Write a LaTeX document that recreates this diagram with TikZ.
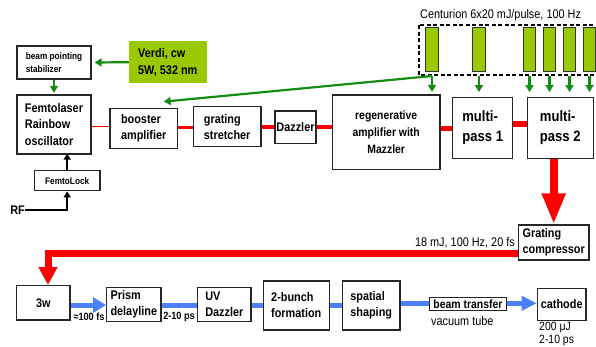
\documentclass[tikz,border=0pt]{standalone}
\usepackage{fontspec}
\setmainfont{Liberation Sans}[FakeStretch=0.87]
\usetikzlibrary{arrows.meta}
\definecolor{lgreen}{RGB}{153,201,0}
\definecolor{dgreen}{RGB}{20,140,20}
\definecolor{lred}{RGB}{255,0,0}
\definecolor{lblue}{RGB}{77,128,255}
\begin{document}
\begin{tikzpicture}[x=1pt,y=-1pt,
  box/.style={draw=black!85, line width=1.3pt, inner sep=0pt, align=center,
    font=\bfseries\fontsize{12.5}{16}\selectfont},
  boxl/.style={box, align=left},
  bar/.style={draw=black!80, line width=0.8pt, fill=lgreen, minimum width=12.6pt,
    minimum height=44pt, inner sep=0pt},
  garrow/.style={draw=dgreen, line width=2.2pt, -{Triangle[width=8pt,length=7pt]}},
  rline/.style={draw=lred, line width=3.5pt},
  bline/.style={draw=lblue, line width=5pt},
  bhead/.style={-{Triangle[width=15pt,length=13pt]}},
  karrow/.style={draw=black, line width=2pt, -{Triangle[width=7pt,length=6pt]}},
  lab/.style={inner sep=0pt, font=\fontsize{12.5}{14}\selectfont},
  blab/.style={inner sep=0pt, font=\bfseries\fontsize{10.5}{12}\selectfont}
]
\fill[white] (0,0) rectangle (596,346);
\useasboundingbox (0,0) rectangle (596,346);

% Centurion pump lasers
\node[lab, anchor=base west] (cent) at (420,18.5) {Centurion 6x20 mJ/pulse, 100 Hz};
\draw[line width=1.3pt, dash pattern=on 4pt off 2.5pt] (419,25) rectangle (612,75);
\node[bar] (b1) at (432,49) {};
\node[bar] (b2) at (479,49) {};
\node[bar] (b3) at (529.5,49) {};
\node[bar] (b4) at (549.5,49) {};
\node[bar] (b5) at (569.5,49) {};
\node[bar] (b6) at (589.5,49) {};

% top row
\node[boxl, minimum width=74pt, minimum height=33pt,
  font=\bfseries\fontsize{9.5}{13}\selectfont] (stab) at (54,62.5) {beam pointing\\stabilizer};
\node[fill=lgreen, minimum width=77.7pt, minimum height=42.3pt, inner sep=0pt, align=left,
  font=\bfseries\fontsize{12.5}{16.7}\selectfont] (verdi) at (167.8,62.2) {Verdi, cw\\5W, 532 nm};
\node[boxl, minimum width=74pt, minimum height=59pt,
  font=\bfseries\fontsize{12.5}{16.7}\selectfont] (femto) at (54,124.5) {Femtolaser\\Rainbow\\oscillator};
\node[boxl, minimum width=67.3pt, minimum height=40pt] (booster) at (143.7,128.3) {booster\\amplifier};
\node[boxl, minimum width=67.7pt, minimum height=40pt] (grating) at (227.2,126.7) {grating\\stretcher};
\node[box, minimum width=41pt, minimum height=32.3pt] (dazz) at (295.5,127.2) {Dazzler};
\node[box, minimum width=107.7pt, minimum height=74.3pt,
  font=\bfseries\fontsize{12}{17}\selectfont] (regen) at (386.2,132.2) {regenerative\\amplifier with\\Mazzler};
\node[boxl, minimum width=60pt, minimum height=60.6pt,
  font=\bfseries\fontsize{15}{20}\selectfont] (mp1) at (482.7,128) {multi-\\pass 1};
\node[boxl, minimum width=66pt, minimum height=60.6pt,
  font=\bfseries\fontsize{15}{20}\selectfont] (mp2) at (560.3,128) {multi-\\pass 2};
\node[box, minimum width=65.7pt, minimum height=20pt,
  font=\bfseries\fontsize{9.5}{12}\selectfont] (flock) at (67.2,180.7) {FemtoLock};
\node[inner sep=0pt, font=\bfseries\fontsize{12.5}{14}\selectfont] (rf) at (17.5,210) {RF};
\node[boxl, minimum width=70.7pt, minimum height=35pt] (comp) at (553.7,242.5) {Grating\\compressor};

% bottom row
\node[box, minimum width=53.3pt, minimum height=34.3pt] (w3) at (43.3,302.8) {3w};
\node[boxl, minimum width=54.3pt, minimum height=34pt] (prism) at (133.8,304.7) {Prism\\delayline};
\node[boxl, minimum width=53.3pt, minimum height=34pt] (uvd) at (224.3,304.7) {UV\\Dazzler};
\node[boxl, minimum width=66pt, minimum height=49pt] (bunch) at (296.3,305.5) {2-bunch\\formation};
\node[boxl, minimum width=57.7pt, minimum height=49pt] (spatial) at (371.2,305.5) {spatial\\shaping};
\node[box, line width=1pt, minimum width=77.4pt, minimum height=13pt,
  font=\bfseries\fontsize{12}{14}\selectfont] (bt) at (468,304.2) {beam transfer};
\node[box, minimum width=48.7pt, minimum height=32.4pt] (cath) at (561.7,304.5) {cathode};

% labels
\node[lab, anchor=east] (l18) at (515,243) {18 mJ, 100 Hz, 20 fs};
\node[blab] (l100) at (89,317) {≈100 fs};
\node[blab] (l210) at (179,317) {2-10 ps};
\node[lab, anchor=west] (lvac) at (431,321) {vacuum tube};
\node[inner sep=0pt, anchor=north west, align=left,
  font=\fontsize{12}{12.5}\selectfont] (l200) at (539,322) {200 μJ\\2-10 ps};

% green pump arrows
\draw[garrow, shorten >=3pt] (verdi.west) -- (stab.east);
\draw[garrow, shorten >=1.5pt] (stab.south) -- (femto.north);
\coordinate (g1) at (b1.south |- 0,76);
\draw[garrow, shorten >=2.5pt] (g1) -- (g1 |- regen.north);
\draw[garrow] (g1) -- ([xshift=20pt,yshift=6pt]booster.north);
\draw[garrow, shorten >=5pt] (b2.south |- 0,76) -- (b2.south |- mp1.north);
\draw[garrow, shorten >=5pt] (b3.south |- 0,76) -- (b3.south |- mp2.north);
\draw[garrow, shorten >=5pt] (b4.south |- 0,76) -- (b4.south |- mp2.north);
\draw[garrow, shorten >=5pt] (b5.south |- 0,76) -- (b5.south |- mp2.north);
\draw[garrow, shorten >=5pt] (b6.south |- 0,76) -- (b6.south |- mp2.north);

% black arrows
\draw[karrow, shorten >=-1pt] (flock.north) -- (flock.north |- femto.south);
\draw[karrow] (rf.east) -| (flock.south);

% red beam
\draw[draw=lred, line width=1.2pt] (femto.east |- 0,126.7) -- (booster.west |- 0,126.7);
\draw[rline] (booster.east |- 0,127.3) -- (grating.west |- 0,127.3);
\draw[rline] (grating.east |- 0,127) -- (dazz.west |- 0,127);
\draw[rline] (dazz.east |- 0,127) -- (regen.west |- 0,127);
\draw[rline, line width=5.5pt] (regen.east |- 0,128.3) -- (mp1.west |- 0,128.3);
\draw[rline, line width=5.5pt] (mp1.east |- 0,124) -- (mp2.west |- 0,124);
\draw[draw=lred, line width=8pt, -{Triangle[width=22pt,length=31pt]}]
  (mp2.south -| comp.north) -- (comp.north);
\draw[draw=lred, line width=7pt, line join=miter, -{Triangle[width=18pt,length=18pt]}]
  ([yshift=-11pt]comp.west) -| ([xshift=4.7pt]w3.north);

% blue UV beam
\draw[bline, bhead] (w3.east |- 0,305) -- (prism.west |- 0,305);
\draw[bline] (prism.east |- 0,305) -- (uvd.west |- 0,305);
\draw[bline] (uvd.east |- 0,305) -- (bunch.west |- 0,305);
\draw[bline] (bunch.east |- 0,305) -- (spatial.west |- 0,305);
\draw[bline] (spatial.east |- 0,303.3) -- (bt.west |- 0,303.3);
\draw[bline, -{Triangle[width=14pt,length=15pt]}] (bt.east |- 0,303.3) -- (cath.west |- 0,303.3);
\end{tikzpicture}
\end{document}
